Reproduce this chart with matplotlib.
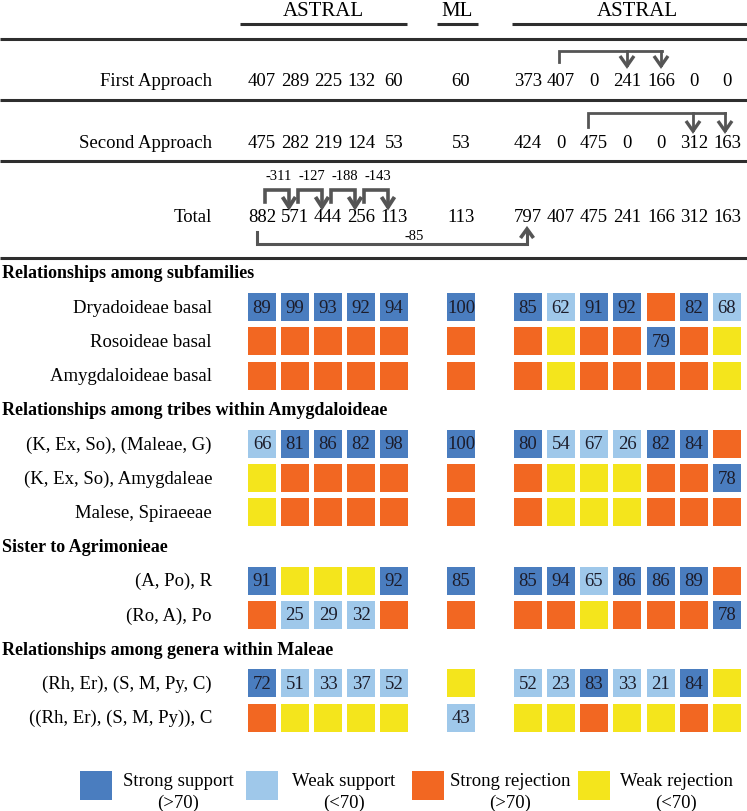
"""Support / rejection summary table for the Rosaceae backbone analyses."""

import matplotlib.pyplot as plt
from matplotlib.patches import Rectangle

plt.rcParams["font.family"] = ["Liberation Serif", "DejaVu Serif"]

# ---------------------------------------------------------------------
# data
#
group_titles = ["ASTRAL", "ML", "ASTRAL"]

approach_labels = ["First Approach", "Second Approach", "Total"]
first_approach = [407, 289, 225, 132, 60, 60, 373, 407, 0, 241, 166, 0, 0]
second_approach = [475, 282, 219, 124, 53, 53, 424, 0, 475, 0, 0, 312, 163]
total_counts = [882, 571, 444, 256, 113, 113, 797, 407, 475, 241, 166, 312, 163]
step_losses = [-311, -127, -188, -143]
long_loss = -85

# numbers are support values, "R" = strong rejection, "Y" = weak rejection
sections = [
    "Relationships among subfamilies",
    "Relationships among tribes within Amygdaloideae",
    "Sister to Agrimonieae",
    "Relationships among genera within Maleae",
]
section_rows = [
    ["Dryadoideae basal", "Rosoideae basal", "Amygdaloideae basal"],
    ["(K, Ex, So), (Maleae, G)", "(K, Ex, So), Amygdaleae", "Malese, Spiraeeae"],
    ["(A, Po), R", "(Ro, A), Po"],
    ["(Rh, Er), (S, M, Py, C)", "((Rh, Er), (S, M, Py)), C"],
]
cells = [
    [
        [89, 99, 93, 92, 94, 100, 85, 62, 91, 92, "R", 82, 68],
        ["R", "R", "R", "R", "R", "R", "R", "Y", "R", "R", 79, "R", "Y"],
        ["R", "R", "R", "R", "R", "R", "R", "Y", "R", "R", "R", "R", "Y"],
    ],
    [
        [66, 81, 86, 82, 98, 100, 80, 54, 67, 26, 82, 84, "R"],
        ["Y", "R", "R", "R", "R", "R", "R", "Y", "Y", "Y", "R", "R", 78],
        ["Y", "R", "R", "R", "R", "R", "R", "Y", "Y", "Y", "R", "R", "R"],
    ],
    [
        [91, "Y", "Y", "Y", 92, 85, 85, 94, 65, 86, 86, 89, "R"],
        ["R", 25, 29, 32, "R", "R", "R", "R", "Y", "R", "R", "R", 78],
    ],
    [
        [72, 51, 33, 37, 52, "Y", 52, 23, 83, 33, 21, 84, "Y"],
        ["R", "Y", "Y", "Y", "Y", 43, "Y", "Y", "R", "Y", "Y", "R", "Y"],
    ],
]

legend_labels = ["Strong support", "Weak support", "Strong rejection", "Weak rejection"]
legend_notes = ["(>70)", "(<70)", "(>70)", "(<70)"]

# ---------------------------------------------------------------------
# layout / style
#
COLORS = {"S": "#4a7dbf", "W": "#9fc8ea", "R": "#f26722", "Y": "#f4e51c"}
LINE = "#2e2e2e"
ARROW = "#555555"
col_x = [262, 295, 328, 361, 394, 461, 528, 561, 594, 627, 661, 694, 727]
CELL = 28
LABEL_X = 212
FS = 13.5


def category(v):
    if v == "R" or v == "Y":
        return v
    return "S" if v >= 70 else "W"


def chevron(ax, x, tip, up=False, half=7, height=9, lw=2.4):
    # y axis runs downwards, so a down arrow has its arms above the tip
    d = -height if up else height
    ax.plot([x - half, x, x + half], [tip - d, tip, tip - d],
            color=ARROW, lw=lw, solid_capstyle="butt", solid_joinstyle="miter")


fig = plt.figure(figsize=(7.47, 8.12), dpi=100)
ax = fig.add_axes([0, 0, 1, 1])
ax.set_xlim(0, 747)
ax.set_ylim(812, 0)
ax.axis("off")

# headers with underlines
spans = [(240, 407), (437, 478), (512, 747)]
for title, (x0, x1) in zip(group_titles, spans):
    ax.text((x0 + x1) / 2 + (8 if x1 == 747 else 0), 12, title,
            ha="center", va="center", fontsize=15)
    ax.plot([x0, x1], [25, 25], color=LINE, lw=2.2, solid_capstyle="butt")

for y in [40, 101, 162, 259]:
    ax.plot([0, 747], [y, y], color=LINE, lw=2.2, solid_capstyle="butt")

# count rows
for label, vals, y in zip(approach_labels,
                          [first_approach, second_approach, total_counts],
                          [81, 143, 217]):
    ax.text(LABEL_X, y, label, ha="right", va="center", fontsize=FS)
    for x, v in zip(col_x, vals):
        ax.text(x, y, str(v), ha="center", va="center", fontsize=FS)

# first approach bracket: 407 -> 241, 166
ax.plot([col_x[7] - 2, col_x[7] - 2, col_x[10] + 1], [63, 52, 52],
        color=ARROW, lw=2.0, solid_joinstyle="miter")
for i in [9, 10]:
    ax.plot([col_x[i], col_x[i]], [52, 66], color=ARROW, lw=2.0)
    chevron(ax, col_x[i], 67, half=7, height=10)

# second approach bracket: 475 -> 312, 163
ax.plot([col_x[8] - 6, col_x[8] - 6, col_x[12] - 2], [128, 114, 114],
        color=ARROW, lw=2.0, solid_joinstyle="miter")
for i in [11, 12]:
    x = col_x[i] - 1 if i == 11 else col_x[i] - 2
    ax.plot([x, x], [114, 131], color=ARROW, lw=2.0)
    chevron(ax, x, 132, half=7, height=10)

# total row: step losses between consecutive ASTRAL columns
for i, loss in enumerate(step_losses):
    x0 = col_x[i] + 3
    x1 = col_x[i + 1] - 6
    ax.plot([x0, x0, x1, x1], [203, 191, 191, 207], color=ARROW, lw=2.6,
            solid_joinstyle="miter")
    chevron(ax, x1, 208, half=6.5, height=10, lw=2.8)
    ax.text((col_x[i] + col_x[i + 1]) / 2, 177, str(loss), ha="center",
            va="center", fontsize=10.5)

# total row: long bracket 882 -> 797
ax.plot([col_x[0] - 5, col_x[0] - 5, col_x[6] - 1, col_x[6] - 1],
        [233, 245, 245, 231], color=ARROW, lw=2.2, solid_joinstyle="miter")
chevron(ax, col_x[6] - 1, 230, up=True, half=6.5, height=9, lw=2.6)
ax.text(414, 237, str(long_loss), ha="center", va="center", fontsize=10.5)

# support / rejection grid
k = 0
for title, labels, rows in zip(sections, section_rows, cells):
    y = 274 + 34.2 * k
    ax.text(2, y, title, ha="left", va="center", fontsize=13, fontweight="bold")
    k += 1
    for label, row in zip(labels, rows):
        y = 274 + 34.2 * k
        ax.text(LABEL_X, y, label, ha="right", va="center", fontsize=FS)
        for x, v in zip(col_x, row):
            ax.add_patch(Rectangle((x - CELL / 2, y - CELL / 2), CELL, CELL,
                                   facecolor=COLORS[category(v)],
                                   edgecolor="none"))
            if not isinstance(v, str):
                ax.text(x, y, str(v), ha="center", va="center",
                        fontsize=FS, color="#1c1c2a")
        k += 1

# legend
for i, (lab, note, key) in enumerate(zip(legend_labels, legend_notes, "SWRY")):
    x0 = 80 + 166 * i
    ax.add_patch(Rectangle((x0, 772), 32, 29, facecolor=COLORS[key],
                           edgecolor="none"))
    ax.text(x0 + 98, 782, lab, ha="center", va="center", fontsize=FS)
    ax.text(x0 + 98, 803, note, ha="center", va="center", fontsize=FS)

fig.savefig("out.png", dpi=100)
